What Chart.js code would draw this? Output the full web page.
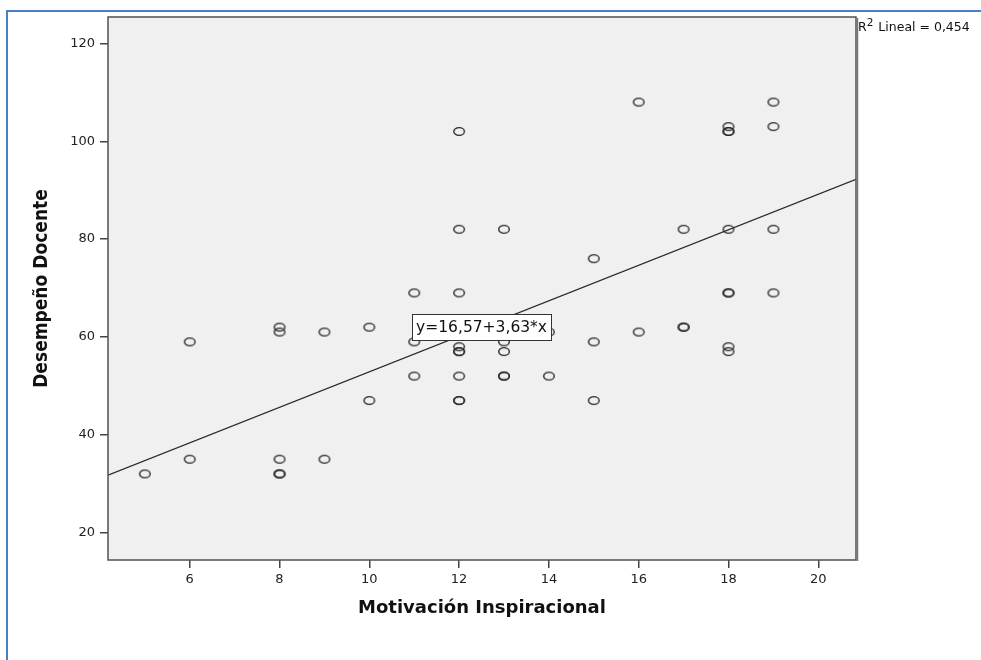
<!DOCTYPE html>
<html>
<head>
<meta charset="utf-8">
<script src="https://cdn.jsdelivr.net/npm/chart.js@4.4.1/dist/chart.umd.min.js"></script>
<style>
  html, body { margin: 0; padding: 0; background: #fff; overflow: hidden; }
  #wrap { width: 981px; height: 660px; position: relative; }
</style>
</head>
<body>
<div id="wrap"><canvas id="scatter" width="981" height="660"></canvas></div>
<script>
// Motivación Inspiracional (x) vs Desempeño Docente (y)
var motivacion = [5, 6, 6, 8, 8, 8, 8, 8, 9, 9, 10, 10, 11, 11, 11,
                  12, 12, 12, 12, 12, 12, 12, 12, 12,
                  13, 13, 13, 13, 13, 14, 14, 15, 15, 15, 16, 16, 17, 17, 17,
                  18, 18, 18, 18, 18, 18, 18, 18, 19, 19, 19, 19]
var desempeno  = [32, 59, 35, 62, 61, 35, 32, 32, 61, 35, 62, 47, 69, 59, 52,
                  102, 82, 69, 58, 57, 57, 52, 47, 47,
                  82, 59, 57, 52, 52, 61, 52, 76, 59, 47, 108, 61, 82, 62, 62,
                  103, 102, 102, 82, 69, 69, 58, 57, 108, 103, 82, 69]

var xTicks = [6, 8, 10, 12, 14, 16, 18, 20]
var yTicks = [20, 40, 60, 80, 100, 120]
var xRange = [4.18, 20.84]
var yRange = [14.4, 125.4]

// fit line printed on the chart
var intercepto = 16.57
var pendiente = 3.63
var ecuacion = 'y=16,57+3,63*x'
var ecuacionX = 12.5
var r2Texto = ' Lineal = 0,454'

var puntos = motivacion.map(function (x, i) { return {x: x, y: desempeno[i]} })
var linea = xRange.map(function (x) { return {x: x, y: intercepto + pendiente * x} })

// SPSS style open marker (slightly wide ellipse)
var marca = document.createElement('canvas')
marca.width = 14
marca.height = 11
var mctx = marca.getContext('2d')
mctx.strokeStyle = '#2a2a2a'
mctx.lineWidth = 1.4
mctx.beginPath()
mctx.ellipse(7, 5.5, 5.3, 3.9, 0, 0, Math.PI * 2)
mctx.stroke()

var marco = {
  id: 'marco',
  beforeDraw: function (chart) {
    var ctx = chart.ctx, a = chart.chartArea
    ctx.save()
    ctx.fillStyle = '#f0f0f0'
    ctx.fillRect(a.left, a.top, a.right - a.left, a.bottom - a.top)
    // blue page border
    ctx.strokeStyle = '#4a7fc8'
    ctx.lineWidth = 2
    ctx.beginPath()
    ctx.moveTo(7, 700)
    ctx.lineTo(7, 11)
    ctx.lineTo(1000, 11)
    ctx.stroke()
    ctx.restore()
  },
  afterDatasetsDraw: function (chart) {
    var ctx = chart.ctx, a = chart.chartArea
    var xs = chart.scales.x, ys = chart.scales.y
    ctx.save()
    ctx.strokeStyle = '#505050'
    ctx.lineWidth = 1.5
    ctx.strokeRect(a.left, a.top, a.right - a.left, a.bottom - a.top)
    ctx.strokeStyle = '#777'
    ctx.lineWidth = 1.5
    ctx.beginPath()
    ctx.moveTo(a.right + 1.5, a.top + 1)
    ctx.lineTo(a.right + 1.5, a.bottom + 1)
    ctx.stroke()

    // equation label
    ctx.font = '15.5px "DejaVu Sans"'
    var w = ctx.measureText(ecuacion).width
    var cx = xs.getPixelForValue(ecuacionX)
    var cy = ys.getPixelForValue(intercepto + pendiente * ecuacionX)
    var bw = w + 8, bh = 26
    ctx.fillStyle = '#fff'
    ctx.fillRect(cx - bw / 2, cy - bh / 2, bw, bh)
    ctx.strokeStyle = '#333'
    ctx.lineWidth = 1
    ctx.strokeRect(Math.round(cx - bw / 2) + 0.5, Math.round(cy - bh / 2) + 0.5, Math.round(bw), bh)
    ctx.fillStyle = '#111'
    ctx.textBaseline = 'middle'
    ctx.textAlign = 'center'
    ctx.fillText(ecuacion, cx, cy + 1)

    // R2 note
    ctx.textAlign = 'left'
    ctx.textBaseline = 'alphabetic'
    ctx.font = '12.5px "DejaVu Sans"'
    ctx.fillText('R', a.right + 2, 31)
    var rw = ctx.measureText('R').width
    ctx.font = '10.5px "DejaVu Sans"'
    ctx.fillText('2', a.right + 2 + rw, 26)
    var sw = ctx.measureText('2').width
    ctx.font = '12.5px "DejaVu Sans"'
    ctx.fillText(r2Texto, a.right + 3 + rw + sw, 31)
    ctx.restore()
  }
}

var escalaX = {
  type: 'linear',
  min: xRange[0],
  max: xRange[1],
  afterBuildTicks: function (s) { s.ticks = xTicks.map(function (v) { return {value: v} }) },
  afterFit: function (s) { s.height = 100 },
  grid: { drawOnChartArea: false, drawTicks: true, tickLength: 8, color: '#444', lineWidth: 1.5 },
  border: { display: false },
  ticks: { color: '#222', padding: 4, maxRotation: 0, font: { family: 'DejaVu Sans', size: 13 } },
  title: { display: true, text: 'Motivación Inspiracional', color: '#111',
           padding: { top: 0, bottom: 41 },
           font: { family: 'DejaVu Sans', size: 18, weight: 'bold' } }
}

var escalaY = {
  type: 'linear',
  min: yRange[0],
  max: yRange[1],
  afterBuildTicks: function (s) { s.ticks = yTicks.map(function (v) { return {value: v} }) },
  afterFit: function (s) { s.width = 108 },
  grid: { drawOnChartArea: false, drawTicks: true, tickLength: 8, color: '#444', lineWidth: 1.5 },
  border: { display: false },
  ticks: { color: '#222', padding: 5, font: { family: 'DejaVu Sans', size: 13 } },
  title: { display: true, text: 'Desempeño Docente', color: '#111',
           padding: { top: 31, bottom: 0 },
           font: { family: '"DejaVu Sans Condensed", "Liberation Sans", sans-serif', size: 19, weight: 'bold' } }
}

new Chart(document.getElementById('scatter').getContext('2d'), {
  type: 'scatter',
  data: {
    datasets: [
      {
        label: 'Desempeño Docente',
        data: puntos,
        pointStyle: marca,
        pointRadius: 5,
        borderColor: '#333',
        backgroundColor: 'rgba(0,0,0,0)'
      },
      {
        type: 'line',
        label: 'Lineal',
        data: linea,
        borderColor: '#2a2a2a',
        borderWidth: 1.3,
        pointRadius: 0,
        fill: false
      }
    ]
  },
  options: {
    responsive: false,
    animation: false,
    events: [],
    layout: { padding: { left: 0, top: 17, right: 125, bottom: 0 } },
    plugins: { legend: { display: false }, tooltip: { enabled: false } },
    scales: { x: escalaX, y: escalaY }
  },
  plugins: [marco]
})
</script>
</body>
</html>
